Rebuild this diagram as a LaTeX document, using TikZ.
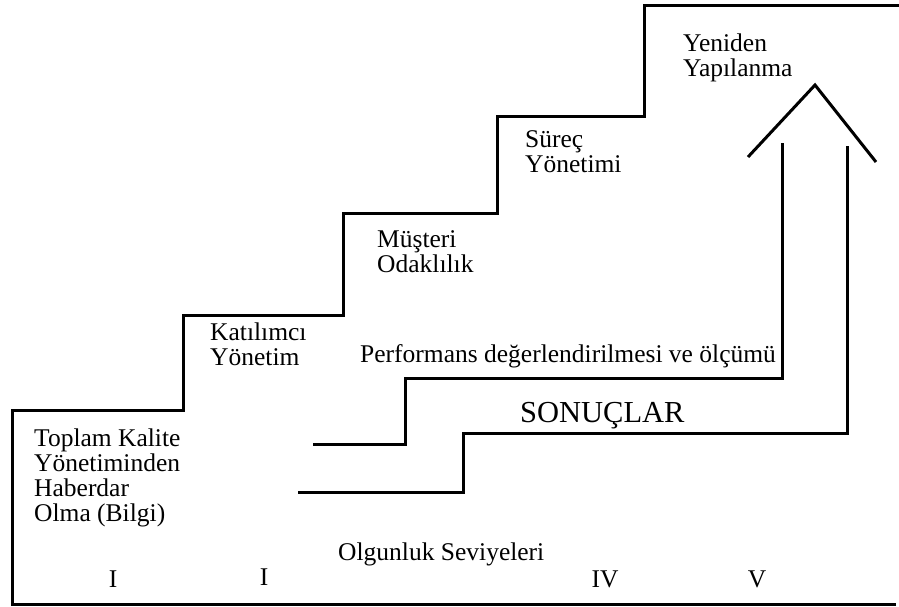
\documentclass[tikz,border=0pt]{standalone}
\usepackage{fontspec}
\setmainfont{Liberation Serif}
\usetikzlibrary{positioning}
\tikzset{
  stair/.style={draw=black,line width=3pt,line join=miter},
  lbl/.style={anchor=base west,inner sep=0pt,align=left,font=\fontsize{25.5}{25}\selectfont},
  roman/.style={anchor=base,inner sep=0pt,font=\fontsize{25.5}{25}\selectfont},
  big/.style={anchor=base west,inner sep=0pt,font=\fontsize{30.5}{31}\selectfont}
}
\begin{document}
\begin{tikzpicture}[x=1pt,y=-1pt]
\useasboundingbox (0,0) rectangle (899,607);
% staircase
\coordinate (S0) at (896,604);
\coordinate (S1) at (12,604);
\coordinate (S2) at (12,410);
\coordinate (S3) at (183,410);
\coordinate (S4) at (183,315);
\coordinate (S5) at (343,315);
\coordinate (S6) at (343,213);
\coordinate (S7) at (497,213);
\coordinate (S8) at (497,117);
\coordinate (S9) at (644,117);
\coordinate (S10) at (644,6);
\coordinate (S11) at (899,6);
% inner steps
\coordinate (P0) at (313,444);
\coordinate (P1) at (405,444);
\coordinate (P2) at (405,378);
\coordinate (P3) at (782,378);
\coordinate (P4) at (782,143);
\coordinate (R0) at (298,492);
\coordinate (R1) at (463,492);
\coordinate (R2) at (463,433);
\coordinate (R3) at (847,433);
\coordinate (R4) at (847,146);
% roof
\coordinate (T0) at (748,157);
\coordinate (T1) at (815,85);
\coordinate (T2) at (876,162);

\draw[stair](S0)--(S1)--(S2)--(S3)--(S4)--(S5)--(S6)--(S7)--(S8)--(S9)--(S10)--(S11);
\draw[stair](P0)--(P1)--(P2)--(P3)--(P4);
\draw[stair](R0)--(R1)--(R2)--(R3)--(R4);
\draw[stair](T0)--(T1)--(T2);

% base of a multi-line node is its last line
\node[lbl] (bilgi) at (34,521) {Toplam Kalite\\Yönetiminden\\Haberdar\\Olma (Bilgi)};
\node[lbl] (katilim) at (210,365) {Katılımcı\\Yönetim};
\node[lbl] (musteri) at (377,272) {Müşteri\\Odaklılık};
\node[lbl] (surec) at (525,172) {Süreç\\Yönetimi};
\node[lbl] (yeniden) at (683,77) {Yeniden\\Yapılanma};
\node[lbl] (perf) at (360,362) {Performans değerlendirilmesi ve ölçümü};
\node[big] (sonuc) at (520,422) {SONUÇLAR};
\node[lbl] (olgun) at (338,560) {Olgunluk Seviyeleri};
\node[roman] (lv1) at (113,587) {I};
\node[roman] (lv2) at (264,585) {I};
\node[roman] (lv4) at (605,587) {IV};
\node[roman] (lv5) at (757,587) {V};
\end{tikzpicture}
\end{document}
